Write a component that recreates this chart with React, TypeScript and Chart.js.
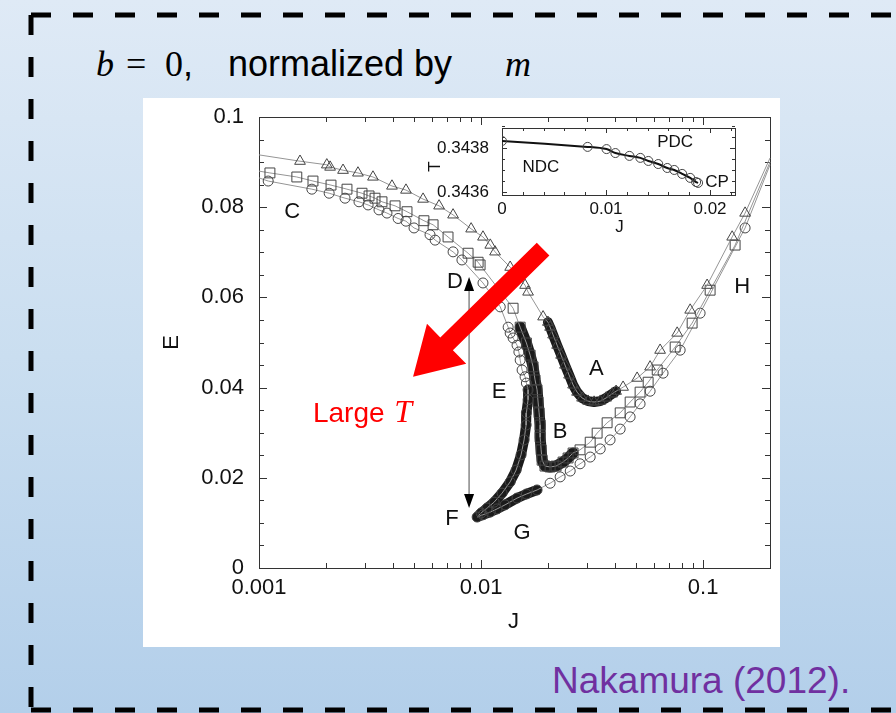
import React, { useEffect, useRef } from 'react';
import { Chart, registerables } from 'chart.js';

Chart.register(...registerables);

type Pt = [number, number];

// ---------------- main chart data: (J, E) ----------------
const CIRCLE_ENDS: Pt[] = [[0.001, 0.0865], [0.2, 0.0894]];
const CIRCLE_UPPER: Pt[] = [
  [0.0011, 0.0858], [0.00173, 0.084], [0.00207, 0.0831], [0.00244, 0.082], [0.00282, 0.0812],
  [0.0031, 0.0805], [0.00347, 0.0794], [0.00377, 0.0787], [0.00423, 0.0775], [0.00459, 0.0769],
  [0.00499, 0.0754], [0.00589, 0.0739], [0.00621, 0.0727], [0.00748, 0.0701], [0.0082, 0.0683],
  [0.0102, 0.0632], [0.0122, 0.0579], [0.01324, 0.0534], [0.01352, 0.0521], [0.01394, 0.051],
  [0.01452, 0.0494], [0.0148, 0.0479], [0.015, 0.0461], [0.0153, 0.0439], [0.01578, 0.0424], [0.016, 0.041],
];
const CIRCLE_E_BRANCH: Pt[] = [
  [0.01628, 0.0395], [0.01628, 0.0373], [0.016, 0.0344], [0.01595, 0.0317], [0.01562, 0.0284],
  [0.01514, 0.0251], [0.01438, 0.0217], [0.01352, 0.0191], [0.01243, 0.0166], [0.01145, 0.0146],
  [0.01064, 0.0133], [0.01, 0.0122], [0.0096, 0.0113],
];
const CIRCLE_G_BRANCH: Pt[] = [
  [0.0102, 0.0118], [0.011, 0.0124], [0.0118, 0.0131], [0.01282, 0.014], [0.01452, 0.0155],
  [0.016, 0.0164], [0.01787, 0.0173],
];
const CIRCLE_H_BRANCH: Pt[] = [
  [0.02046, 0.0188], [0.0227, 0.0202], [0.0252, 0.0215], [0.0279, 0.0231], [0.031, 0.0246],
  [0.0344, 0.0264], [0.0381, 0.0284], [0.0423, 0.0308], [0.0469, 0.0335], [0.052, 0.0364],
  [0.0577, 0.0392], [0.066, 0.0432], [0.0788, 0.0483], [0.0969, 0.0565], [0.1545, 0.0754],
];

const SQUARE_ENDS: Pt[] = [[0.001, 0.088], [0.2, 0.09]];
const SQUARE_UPPER: Pt[] = [
  [0.00112, 0.0876], [0.00148, 0.0867], [0.00175, 0.0858], [0.00211, 0.0849], [0.00249, 0.084],
  [0.00291, 0.0831], [0.00313, 0.0825], [0.00333, 0.082], [0.00358, 0.0812], [0.0041, 0.0803],
  [0.00464, 0.079], [0.00553, 0.077], [0.00608, 0.0761], [0.0071, 0.0734], [0.00874, 0.0698],
  [0.0097, 0.0678], [0.0099, 0.0672], [0.01394, 0.0576],
];
const SQUARE_B_BRANCH: Pt[] = [
  [0.015, 0.0534], [0.016, 0.0499], [0.01663, 0.0472], [0.01715, 0.0446], [0.0175, 0.0417],
  [0.01787, 0.0395], [0.01806, 0.0368], [0.01825, 0.0344], [0.01845, 0.0317], [0.01845, 0.029],
  [0.01864, 0.0262], [0.01883, 0.0239], [0.0194, 0.0226], [0.02046, 0.0224], [0.02176, 0.0226],
  [0.0234, 0.0235], [0.02465, 0.0244], [0.02596, 0.0255],
];
const SQUARE_H_BRANCH: Pt[] = [
  [0.0279, 0.0262], [0.031, 0.0279], [0.03331, 0.0299], [0.03694, 0.0322], [0.0423, 0.0344],
  [0.0469, 0.0368], [0.052, 0.039], [0.05654, 0.0412], [0.0621, 0.0439], [0.0748, 0.049],
  [0.0892, 0.0543], [0.1075, 0.0616], [0.1393, 0.0716],
];

const TRIANGLE_ENDS: Pt[] = [[0.001, 0.0916], [0.2, 0.0909]];
const TRIANGLE_UPPER: Pt[] = [
  [0.00153, 0.0902], [0.00202, 0.0894], [0.00209, 0.0889], [0.00239, 0.0882], [0.00279, 0.0876],
  [0.00326, 0.0867], [0.00397, 0.0847], [0.00459, 0.0838], [0.00548, 0.0818], [0.00647, 0.0803],
  [0.00748, 0.0783], [0.00902, 0.0752], [0.0102, 0.0734], [0.011, 0.0716], [0.01156, 0.0701],
  [0.01352, 0.0667], [0.01578, 0.0627], [0.01628, 0.0612], [0.01902, 0.0557],
];
const TRIANGLE_A_BRANCH: Pt[] = [
  [0.02, 0.0545], [0.02046, 0.0534], [0.0211, 0.0517], [0.022, 0.0494], [0.02293, 0.0472],
  [0.02388, 0.045], [0.0249, 0.0428], [0.02596, 0.0406], [0.02706, 0.039], [0.0285, 0.0377],
  [0.03034, 0.037], [0.03228, 0.0368], [0.0344, 0.037], [0.03656, 0.0377], [0.0389, 0.0386],
  [0.04055, 0.0392],
];
const TRIANGLE_H_BRANCH: Pt[] = [
  [0.0436, 0.0401], [0.05043, 0.0421], [0.05768, 0.0446], [0.064, 0.0483], [0.0764, 0.0521],
  [0.0874, 0.0572], [0.1042, 0.0627], [0.1351, 0.0734], [0.1545, 0.0787],
];

const X_TICK_VALUES = [0.001, 0.01, 0.1];
const X_TICK_LABELS = ['0.001', '0.01', '0.1'];
const Y_TICK_VALUES = [0, 0.02, 0.04, 0.06, 0.08, 0.1];
const Y_TICK_LABELS = ['0', '0.02', '0.04', '0.06', '0.08', '0.1'];

// annotations (data coordinates)
const LETTERS = ['A', 'B', 'C', 'D', 'E', 'F', 'G', 'H'];
const LETTER_POS: Pt[] = [
  [0.033, 0.0441], [0.0227, 0.0302], [0.00141, 0.0789], [0.00763, 0.0634],
  [0.01205, 0.039], [0.0074, 0.01086], [0.0153, 0.00776], [0.15, 0.0623],
];
const DOUBLE_ARROW: Pt[] = [[0.00883, 0.0645], [0.00883, 0.0133]];
const RED_ARROW: Pt[] = [[0.01902, 0.0707], [0.00494, 0.0424]];
const LARGE_T_POS: Pt = [0.00175, 0.0324];

// ---------------- inset data: (J, T) ----------------
const INSET_J = [0.0, 0.00823, 0.01005, 0.0109, 0.01225, 0.0133, 0.01407, 0.01502, 0.01589, 0.01656, 0.01732, 0.01809, 0.01866, 0.01885];
const INSET_T = [0.343832, 0.343805, 0.343795, 0.343777, 0.343764, 0.343755, 0.343741, 0.343727, 0.343709, 0.3437, 0.343682, 0.343664, 0.343645, 0.343641];
const INSET_X_TICKS = [0, 0.01, 0.02];
const INSET_X_LABELS = ['0', '0.01', '0.02'];
const INSET_Y_TICKS = [0.3436, 0.3438];
const INSET_Y_LABELS = ['0.3436', '0.3438'];
const INSET_TEXT = ['NDC', 'PDC', 'CP'];
const INSET_TEXT_POS: Pt[] = [[0.00373, 0.343714], [0.01665, 0.343827], [0.02067, 0.343645]];

const SANS = '"Liberation Sans", Arial, sans-serif';
const SERIF = '"Liberation Serif", "Times New Roman", serif';

const toXY = (p: Pt) => ({ x: p[0], y: p[1] });
const near = (a: number, b: number) => Math.abs(a - b) < 1e-9;

function seriesDataset(ends: Pt[], parts: Pt[][], style: string, radius: number) {
  const pts = [ends[0], ...parts.flat(), ends[1]].map(toXY);
  const last = pts.length - 1;
  return {
    data: pts,
    showLine: true,
    borderColor: '#959595',
    borderWidth: 1,
    pointStyle: style,
    pointRadius: (c: any) => (c.dataIndex === 0 || c.dataIndex === last ? 0 : radius),
    pointBorderColor: '#444',
    pointBackgroundColor: 'rgba(0,0,0,0)',
    pointBorderWidth: 1,
    clip: 6,
  };
}

function bandDataset(parts: Pt[][], width: number) {
  return {
    data: parts.flat().map(toXY),
    showLine: true,
    borderColor: 'rgba(15,15,15,0.95)',
    borderWidth: width,
    borderCapStyle: 'round',
    borderJoinStyle: 'round',
    pointRadius: 0,
  };
}

const noScalePad = (s: any) => {
  s.paddingTop = 0;
  s.paddingBottom = 0;
};

const mainFrame = {
  id: 'mainFrame',
  beforeDatasetsDraw(chart: any) {
    const { ctx, chartArea: a, scales } = chart;
    const x = scales.x, y = scales.y;
    ctx.save();
    ctx.strokeStyle = '#333';
    ctx.lineWidth = 1;
    ctx.strokeRect(Math.round(a.left) + 0.5, Math.round(a.top) + 0.5, Math.round(a.right - a.left), Math.round(a.bottom - a.top));
    ctx.beginPath();
    for (const d of X_TICK_VALUES) {
      for (let k = 1; k <= 9; k++) {
        const v = k * d;
        if (v > 0.2 + 1e-9) break;
        const px = Math.round(x.getPixelForValue(v)) + 0.5;
        const len = k === 1 ? 8 : 5;
        ctx.moveTo(px, a.bottom); ctx.lineTo(px, a.bottom - len);
        ctx.moveTo(px, a.top); ctx.lineTo(px, a.top + len);
      }
    }
    for (let i = 0; i <= 20; i++) {
      const v = i * 0.005;
      const py = Math.round(y.getPixelForValue(v)) + 0.5;
      const len = i % 4 === 0 ? 8 : 5;
      ctx.moveTo(a.left, py); ctx.lineTo(a.left + len, py);
      ctx.moveTo(a.right, py); ctx.lineTo(a.right - len, py);
    }
    ctx.stroke();
    ctx.restore();
  },
  afterDatasetsDraw(chart: any) {
    const { ctx, chartArea: a, scales } = chart;
    const x = scales.x, y = scales.y;
    const P = (p: Pt) => [x.getPixelForValue(p[0]), y.getPixelForValue(p[1])];
    ctx.save();
    // letters
    ctx.fillStyle = '#111';
    ctx.font = `22px ${SANS}`;
    ctx.textAlign = 'center';
    ctx.textBaseline = 'middle';
    LETTERS.forEach((t, i) => {
      const [px, py] = P(LETTER_POS[i]);
      ctx.fillText(t, px, py);
    });
    // double arrow
    const [ax, ay1] = P(DOUBLE_ARROW[0]);
    const [, ay2] = P(DOUBLE_ARROW[1]);
    ctx.strokeStyle = '#6a6a6a';
    ctx.lineWidth = 1.2;
    ctx.beginPath();
    ctx.moveTo(ax, ay1 + 10); ctx.lineTo(ax, ay2 - 10);
    ctx.stroke();
    ctx.fillStyle = '#000';
    ctx.beginPath();
    ctx.moveTo(ax, ay1); ctx.lineTo(ax - 5, ay1 + 14); ctx.lineTo(ax + 5, ay1 + 14); ctx.closePath();
    ctx.moveTo(ax, ay2); ctx.lineTo(ax - 5, ay2 - 14); ctx.lineTo(ax + 5, ay2 - 14); ctx.closePath();
    ctx.fill();
    // red arrow
    const [tx, ty] = P(RED_ARROW[0]);
    const [hx, hy] = P(RED_ARROW[1]);
    const L = Math.hypot(hx - tx, hy - ty);
    const ux = (hx - tx) / L, uy = (hy - ty) / L;
    const nx = -uy, ny = ux;
    const sw = 9, hw = 28, hl = 47;
    const bx = hx - ux * hl, by = hy - uy * hl;
    ctx.fillStyle = '#ff0000';
    ctx.beginPath();
    ctx.moveTo(tx + nx * sw, ty + ny * sw);
    ctx.lineTo(bx + nx * sw, by + ny * sw);
    ctx.lineTo(bx + nx * hw, by + ny * hw);
    ctx.lineTo(hx, hy);
    ctx.lineTo(bx - nx * hw, by - ny * hw);
    ctx.lineTo(bx - nx * sw, by - ny * sw);
    ctx.lineTo(tx - nx * sw, ty - ny * sw);
    ctx.closePath();
    ctx.fill();
    // Large T
    const [lx, ly] = P(LARGE_T_POS);
    ctx.textAlign = 'left';
    ctx.textBaseline = 'alphabetic';
    ctx.font = `28px ${SANS}`;
    ctx.fillText('Large ', lx, ly);
    const w = ctx.measureText('Large ').width;
    ctx.font = `italic 32px ${SERIF}`;
    ctx.fillText('T', lx + w + 2, ly);
    // axis titles
    ctx.fillStyle = '#111';
    ctx.font = `22px ${SANS}`;
    ctx.textAlign = 'center';
    ctx.textBaseline = 'middle';
    ctx.fillText('J', (a.left + a.right) / 2 - 1, a.bottom + 54);
    ctx.save();
    ctx.translate(a.left - 87, (a.top + a.bottom) / 2);
    ctx.rotate(-Math.PI / 2);
    ctx.fillText('E', 0, 0);
    ctx.restore();
    ctx.restore();
  },
};

const insetFrame = {
  id: 'insetFrame',
  beforeDraw(chart: any) {
    const { ctx, chartArea: a } = chart;
    ctx.save();
    ctx.fillStyle = '#fff';
    ctx.fillRect(a.left, a.top, a.right - a.left, a.bottom - a.top);
    ctx.restore();
  },
  beforeDatasetsDraw(chart: any) {
    const { ctx, chartArea: a, scales } = chart;
    const x = scales.x, y = scales.y;
    ctx.save();
    ctx.strokeStyle = '#333';
    ctx.lineWidth = 1;
    ctx.strokeRect(Math.round(a.left) + 0.5, Math.round(a.top) + 0.5, Math.round(a.right - a.left), Math.round(a.bottom - a.top));
    ctx.beginPath();
    for (let i = 0; i <= 11; i++) {
      const v = i * 0.002;
      const px = Math.round(x.getPixelForValue(v)) + 0.5;
      const len = i % 5 === 0 ? 5 : 3;
      ctx.moveTo(px, a.bottom); ctx.lineTo(px, a.bottom - len);
      ctx.moveTo(px, a.top); ctx.lineTo(px, a.top + len);
    }
    for (let i = 0; i <= 6; i++) {
      const v = 0.3436 + i * 0.00005;
      const py = Math.round(y.getPixelForValue(v)) + 0.5;
      const len = i % 4 === 0 ? 5 : 3;
      ctx.moveTo(a.left, py); ctx.lineTo(a.left + len, py);
      ctx.moveTo(a.right, py); ctx.lineTo(a.right - len, py);
    }
    ctx.stroke();
    ctx.restore();
  },
  afterDatasetsDraw(chart: any) {
    const { ctx, chartArea: a, scales } = chart;
    const x = scales.x, y = scales.y;
    ctx.save();
    ctx.fillStyle = '#111';
    ctx.font = `17px ${SANS}`;
    ctx.textAlign = 'center';
    ctx.textBaseline = 'middle';
    INSET_TEXT.forEach((t, i) => {
      ctx.fillText(t, x.getPixelForValue(INSET_TEXT_POS[i][0]), y.getPixelForValue(INSET_TEXT_POS[i][1]));
    });
    ctx.fillText('J', (a.left + a.right) / 2 + 1, a.bottom + 32);
    ctx.save();
    ctx.translate(a.left - 67, (a.top + a.bottom) / 2 + 5);
    ctx.rotate(-Math.PI / 2);
    ctx.fillText('T', 0, 0);
    ctx.restore();
    ctx.restore();
  },
};

export default function App() {
  const mainRef = useRef<HTMLCanvasElement>(null);
  const insetRef = useRef<HTMLCanvasElement>(null);

  useEffect(() => {
    Chart.defaults.font.family = SANS;
    Chart.defaults.color = '#111';
    const main = new Chart(mainRef.current as HTMLCanvasElement, {
      type: 'scatter',
      data: {
        datasets: [
          seriesDataset(TRIANGLE_ENDS, [TRIANGLE_UPPER, TRIANGLE_A_BRANCH, TRIANGLE_H_BRANCH], 'triangle', 6.2),
          seriesDataset(SQUARE_ENDS, [SQUARE_UPPER, SQUARE_B_BRANCH, SQUARE_H_BRANCH], 'rect', 7),
          seriesDataset(CIRCLE_ENDS, [CIRCLE_UPPER, CIRCLE_E_BRANCH, CIRCLE_G_BRANCH, CIRCLE_H_BRANCH], 'circle', 5),
          bandDataset([TRIANGLE_A_BRANCH], 10),
          bandDataset([SQUARE_B_BRANCH], 11),
          bandDataset([CIRCLE_E_BRANCH, CIRCLE_G_BRANCH], 10),
        ] as any,
      },
      options: {
        animation: false,
        responsive: false,
        events: [],
        layout: { padding: { top: 19, right: 10, left: 0, bottom: 0 } },
        plugins: { legend: { display: false }, tooltip: { enabled: false } },
        scales: {
          x: {
            type: 'logarithmic',
            min: 0.001,
            max: 0.2,
            grid: { display: false, drawTicks: false },
            border: { display: false },
            afterBuildTicks: (s: any) => { s.ticks = X_TICK_VALUES.map((v) => ({ value: v })); },
            afterFit: (s: any) => { s.height = 79; s.paddingRight = 0; },
            ticks: {
              autoSkip: false,
              maxRotation: 0,
              padding: 7,
              font: { size: 22, family: SANS },
              color: '#111',
              callback: (v: any) => {
                const i = X_TICK_VALUES.findIndex((t) => near(t, Number(v)));
                return i >= 0 ? X_TICK_LABELS[i] : '';
              },
            },
          },
          y: {
            type: 'linear',
            min: 0,
            max: 0.1,
            grid: { display: false, drawTicks: false },
            border: { display: false },
            afterBuildTicks: (s: any) => { s.ticks = Y_TICK_VALUES.map((v) => ({ value: v })); },
            afterFit: (s: any) => { s.width = 116; noScalePad(s); },
            ticks: {
              padding: 15,
              font: { size: 22, family: SANS },
              color: '#111',
              callback: (v: any) => {
                const i = Y_TICK_VALUES.findIndex((t) => near(t, Number(v)));
                return i >= 0 ? Y_TICK_LABELS[i] : '';
              },
            },
          },
        },
      } as any,
      plugins: [mainFrame],
    });

    const inset = new Chart(insetRef.current as HTMLCanvasElement, {
      type: 'scatter',
      data: {
        datasets: [
          {
            data: INSET_J.map((j, i) => ({ x: j, y: INSET_T[i] })),
            showLine: true,
            borderColor: '#111',
            borderWidth: 2,
            tension: 0.35,
            pointStyle: 'circle',
            pointRadius: 4.5,
            pointBorderColor: '#444',
            pointBackgroundColor: 'rgba(0,0,0,0)',
            pointBorderWidth: 1,
          },
        ] as any,
      },
      options: {
        animation: false,
        responsive: false,
        events: [],
        layout: { padding: { top: 10, right: 15, left: 0, bottom: 0 } },
        plugins: { legend: { display: false }, tooltip: { enabled: false } },
        scales: {
          x: {
            type: 'linear',
            min: 0,
            max: 0.0224,
            grid: { display: false, drawTicks: false },
            border: { display: false },
            afterBuildTicks: (s: any) => { s.ticks = INSET_X_TICKS.map((v) => ({ value: v })); },
            afterFit: (s: any) => { s.height = 48; s.paddingRight = 0; },
            ticks: {
              autoSkip: false,
              maxRotation: 0,
              padding: 4,
              font: { size: 17, family: SANS },
              color: '#111',
              callback: (v: any) => {
                const i = INSET_X_TICKS.findIndex((t) => near(t, Number(v)));
                return i >= 0 ? INSET_X_LABELS[i] : '';
              },
            },
          },
          y: {
            type: 'linear',
            min: 0.343586,
            max: 0.343891,
            grid: { display: false, drawTicks: false },
            border: { display: false },
            afterBuildTicks: (s: any) => { s.ticks = INSET_Y_TICKS.map((v) => ({ value: v })); },
            afterFit: (s: any) => { s.width = 82; noScalePad(s); },
            ticks: {
              padding: 13,
              font: { size: 17, family: SANS },
              color: '#111',
              callback: (v: any) => {
                const i = INSET_Y_TICKS.findIndex((t) => near(t, Number(v)));
                return i >= 0 ? INSET_Y_LABELS[i] : '';
              },
            },
          },
        },
      } as any,
      plugins: [insetFrame],
    });

    return () => {
      main.destroy();
      inset.destroy();
    };
  }, []);

  const abs = (left: number, extra: any = {}) => ({ position: 'absolute' as const, left, top: 0, ...extra });

  return (
    <div
      style={{
        position: 'absolute',
        left: 0,
        top: 0,
        width: 896,
        height: 713,
        overflow: 'hidden',
        background: 'linear-gradient(to bottom, #dfeaf6 0%, #cadef0 50%, #b3cfea 100%)',
        fontFamily: SANS,
      }}
    >
      <svg width={896} height={713} style={{ position: 'absolute', left: 0, top: 0 }}>
        <path
          d="M 31 15 H 900 M 31 15 V 712 M 31 710 H 900"
          fill="none"
          stroke="#000"
          strokeWidth={5}
          strokeDasharray="20 22"
        />
      </svg>
      <div
        style={{
          position: 'absolute',
          left: 0,
          top: 46,
          height: 40,
          width: 896,
          fontSize: 36,
          lineHeight: '36px',
          color: '#000',
          whiteSpace: 'nowrap',
        }}
      >
        <span style={abs(96, { fontFamily: SERIF, fontStyle: 'italic' })}>b</span>
        <span style={abs(126, { fontFamily: SERIF })}>=</span>
        <span style={abs(165, { fontFamily: SERIF })}>0</span>
        <span style={abs(183)}>,</span>
        <span style={abs(228)}>normalized by</span>
        <span style={abs(505, { fontFamily: SERIF, fontStyle: 'italic' })}>m</span>
      </div>
      <div style={{ position: 'absolute', left: 143, top: 98, width: 637, height: 549, background: '#fff' }} />
      <canvas ref={mainRef} width={637} height={549} style={{ position: 'absolute', left: 143, top: 98 }} />
      <canvas ref={insetRef} width={330} height={125} style={{ position: 'absolute', left: 420, top: 118 }} />
      <div
        style={{
          position: 'absolute',
          left: 552,
          top: 662,
          fontSize: 37,
          lineHeight: '37px',
          color: '#7030a0',
          whiteSpace: 'nowrap',
        }}
      >
        Nakamura (2012).
      </div>
    </div>
  );
}
